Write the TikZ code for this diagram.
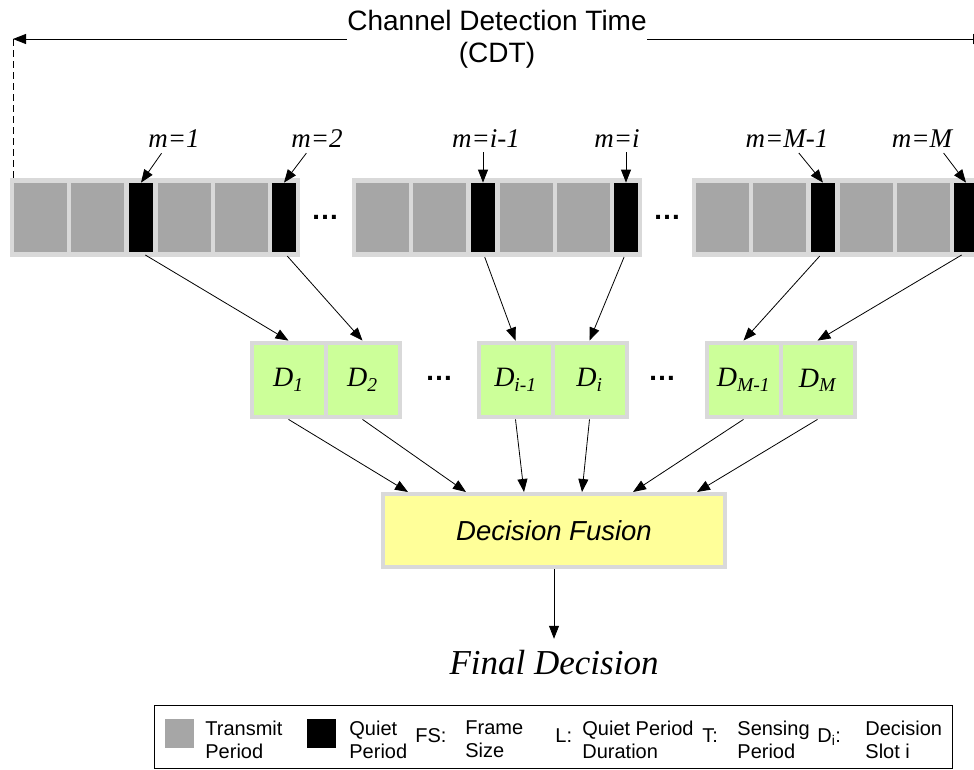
\documentclass[tikz,border=0pt]{standalone}
\usepackage{fontspec}
\setmainfont{Liberation Serif}
\setsansfont{Liberation Sans}
\usetikzlibrary{arrows.meta,positioning,calc}
\definecolor{rimgray}{HTML}{D9D9D9}
\definecolor{txgray}{HTML}{A6A6A6}
\definecolor{decgreen}{HTML}{CCFF99}
\definecolor{fusyellow}{HTML}{FFFF99}

\begin{document}
\begin{tikzpicture}[x=1pt, y=-1pt, >={Triangle[length=13pt,width=10pt]}, line width=0.8pt,
  every node/.style={inner sep=0pt},
  rim/.style={fill=rimgray},
  txcell/.style={fill=txgray, minimum width=53pt, minimum height=69pt},
  qcell/.style={fill=black, minimum width=24pt, minimum height=69pt},
  dcell/.style={fill=decgreen, minimum width=70pt, minimum height=70pt, font=\fontsize{28}{32}\selectfont\itshape},
  mlab/.style={font=\fontsize{27}{30}\selectfont\itshape},
  elide/.style={font=\fontsize{28}{32}\selectfont\sffamily\bfseries},
  legtext/.style={font=\fontsize{20}{23}\selectfont\sffamily, align=left, anchor=west},
  legkey/.style={font=\fontsize{20}{23}\selectfont\sffamily, anchor=base west}]
\useasboundingbox (0,0) rectangle (974,769);

\node[font=\fontsize{28}{32}\selectfont\sffamily, align=center] (cdt) at (497,39) {Channel Detection Time\\(CDT)};
\coordinate (cdtl) at (13,39);
\coordinate (cdtr) at (986,39);
\draw[->] (cdt.west) -- (cdtl);
\draw[->] (cdt.east) -- (cdtr);

\foreach \b/\x in {1/10,2/352,3/692}{
  \node[rim, minimum width=290pt, minimum height=79pt] (blk\b) at (\x+145,217.5) {};
  \node[txcell] (t\b-1) at (\x+30.5,217.5) {};
  \node[txcell] (t\b-2) at (\x+87.5,217.5) {};
  \node[qcell] (q\b-1) at (\x+131,217.5) {};
  \node[txcell] (t\b-3) at (\x+174.5,217.5) {};
  \node[txcell] (t\b-4) at (\x+231.5,217.5) {};
  \node[qcell] (q\b-2) at (\x+274,217.5) {};
}
\draw[dash pattern=on 7pt off 4pt] (cdtl) -- (cdtl |- blk1.north);
\node[elide] (fd1) at (325,217) {\ldots};
\node[elide] (fd2) at (667,217) {\ldots};

\node[mlab] (m1) at (174,139) {m=1};
\node[mlab] (m2) at (317,139) {m=2};
\node[mlab] (mi1) at (486,139) {m=i-1};
\node[mlab] (mi) at (617,139) {m=i};
\node[mlab] (mM1) at (787,139) {m=M-1};
\node[mlab] (mM) at (922,139) {m=M};
\draw[->, shorten <=6pt] ([xshift=-9pt]m1.south) -- (q1-1.north);
\draw[->, shorten <=6pt] ([xshift=-7pt]m2.south) -- (q1-2.north);
\draw[->, shorten <=4pt] (mi1.south -| q2-1) -- (q2-1.north);
\draw[->, shorten <=4pt] (mi.south -| q2-2) -- (q2-2.north);
\draw[->, shorten <=6pt] ([xshift=8pt]mM1.south) -- (q3-1.north);
\draw[->, shorten <=6pt] ([xshift=18pt]mM.south) -- (q3-2.north);

\foreach \g/\x/\ja/\jb in {1/250/1/2,2/477/i-1/i,3/705/M-1/M}{
  \node[rim, minimum width=152pt, minimum height=78pt] (dg\g) at (\x+76,380) {};
  \node[dcell] (d\g-1) at (\x+38.5,380) {D\textsubscript{\ja}};
  \node[dcell] (d\g-2) at (\x+112.5,380) {D\textsubscript{\jb}};
}
\node[elide] (dd1) at (439,378) {\ldots};
\node[elide] (dd2) at (662,378) {\ldots};

\draw[->, shorten <=5pt] (q1-1.south) -- (d1-1.north |- dg1.north);
\draw[->, shorten <=5pt] (q1-2.south) -- (d1-2.north |- dg1.north);
\draw[->, shorten <=5pt] (q2-1.south) -- (d2-1.north |- dg2.north);
\draw[->, shorten <=5pt] (q2-2.south) -- (d2-2.north |- dg2.north);
\draw[->, shorten <=5pt] (q3-1.south) -- (d3-1.north |- dg3.north);
\draw[->, shorten <=5pt] (q3-2.south) -- (d3-2.north |- dg3.north);

\node[draw=rimgray, line width=4pt, fill=fusyellow, minimum width=342pt, minimum height=73pt,
  font=\fontsize{27.5}{32}\selectfont\sffamily\itshape] (fus) at (554,530.5) {Decision Fusion};
\draw[->] (d1-1.south |- dg1.south) -- ([xshift=-146pt]fus.north);
\draw[->] (d1-2.south |- dg1.south) -- ([xshift=-88pt]fus.north);
\draw[->] (d2-1.south |- dg2.south) -- ([xshift=-30pt]fus.north);
\draw[->] (d2-2.south |- dg2.south) -- ([xshift=28pt]fus.north);
\draw[->] (d3-1.south |- dg3.south) -- ([xshift=79pt]fus.north);
\draw[->] (d3-2.south |- dg3.south) -- ([xshift=143pt]fus.north);

\node[font=\fontsize{35}{40}\selectfont\itshape] (final) at (554,663) {Final Decision};
\draw[->] (fus.south) -- ([yshift=11.5pt]final.north);

\node[draw, minimum width=798pt, minimum height=63pt, anchor=north west] (legbox) at (154,705) {};
\node[fill=txgray, minimum size=29pt] (legtx) at (179.5,733.5) {};
\node[legtext] (legtxlab) at (205,739.5) {Transmit\\Period};
\node[fill=black, minimum size=29pt] (legq) at (321.5,733.5) {};
\node[legtext] (legqlab) at (349,739.5) {Quiet\\Period};
\node[legkey] (legfs) at (415,742) {FS:};
\node[legtext] (legfslab) at (465,739.5) {Frame\\Size};
\node[legkey] (legl) at (555,742) {L:};
\node[legtext] (legllab) at (582,739.5) {Quiet Period\\Duration};
\node[legkey] (legt) at (702,742) {T:};
\node[legtext] (legtlab) at (737,739.5) {Sensing\\Period};
\node[legkey] (legd) at (817,742) {D\textsubscript{i}:};
\node[legtext] (legdlab) at (865,739.5) {Decision\\Slot i};
\end{tikzpicture}
\end{document}
